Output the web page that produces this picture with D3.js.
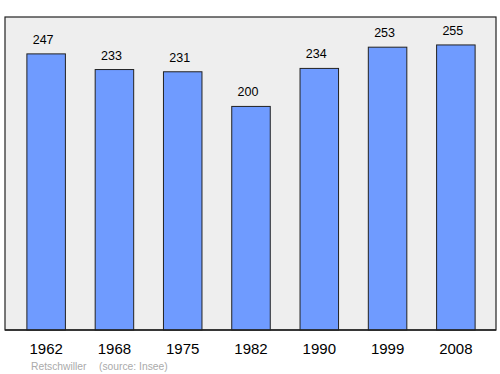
<!DOCTYPE html>
<html>
<head>
<meta charset="utf-8">
<script src="https://cdn.jsdelivr.net/npm/d3@7"></script>
<style>
  body { margin: 0; background: #fff; }
  svg { display: block; font-family: "Liberation Sans", Arial, sans-serif; }
</style>
</head>
<body>
<svg class="chart"></svg>
<script>
// Data
var years = ["1962", "1968", "1975", "1982", "1990", "1999", "2008"];
var population = [247, 233, 231, 200, 234, 253, 255];
var commune = "Retschwiller";
var source = "(source: Insee)";

var width = 500, height = 374;
var frame = { left: 5, top: 17, right: 496, bottom: 330 };

var svg = d3.select(".chart")
    .attr("width", width)
    .attr("height", height);

var xScale = d3.scaleBand()
    .domain(years)
    .range([12, 490])
    .paddingInner(0.436)
    .paddingOuter(0.218);

var yScale = d3.scaleLinear()
    .domain([0, 280])
    .range([frame.bottom, frame.top]);

// background panel
svg.append("rect")
    .attr("x", frame.left)
    .attr("y", frame.top)
    .attr("width", frame.right - frame.left)
    .attr("height", frame.bottom - frame.top)
    .attr("fill", "#eeeeee")
    .attr("stroke", "#222")
    .attr("stroke-width", 1.2);

// bars
svg.selectAll("rect.bar")
    .data(population)
    .enter()
    .append("rect")
    .attr("class", "bar")
    .attr("x", function(d, i) { return xScale(years[i]); })
    .attr("y", function(d) { return yScale(d); })
    .attr("width", xScale.bandwidth())
    .attr("height", function(d) { return frame.bottom - yScale(d); })
    .attr("fill", "#6f9bff")
    .attr("stroke", "#222")
    .attr("stroke-width", 1);

// value labels (sit a little left of the bar centre, like the original)
svg.selectAll("text.value")
    .data(population)
    .enter()
    .append("text")
    .attr("class", "value")
    .attr("x", function(d, i) { return xScale(years[i]) + xScale.bandwidth() / 2 - 3; })
    .attr("y", function(d) { return yScale(d) - 10; })
    .attr("text-anchor", "middle")
    .attr("font-size", 12.5)
    .attr("fill", "#000")
    .text(function(d) { return d; });

// bottom line of the frame, drawn over bars
svg.append("line")
    .attr("x1", frame.left).attr("x2", frame.right)
    .attr("y1", frame.bottom).attr("y2", frame.bottom)
    .attr("stroke", "#222")
    .attr("stroke-width", 1.5);

// year labels
var xAxis = d3.axisBottom(xScale).tickSize(0).tickPadding(13);
var gX = svg.append("g")
    .attr("transform", "translate(0," + frame.bottom + ")")
    .call(xAxis);
gX.select(".domain").remove();
gX.selectAll("text")
    .attr("font-size", 15)
    .attr("font-family", "\"Liberation Sans\", Arial, sans-serif")
    .attr("fill", "#000");

// footer
svg.append("text")
    .attr("x", 31)
    .attr("y", 370)
    .attr("font-size", 10.3)
    .attr("fill", "#aaaaaa")
    .text(commune);
svg.append("text")
    .attr("x", 99)
    .attr("y", 370)
    .attr("font-size", 10.3)
    .attr("fill", "#aaaaaa")
    .text(source);
</script>
</body>
</html>
